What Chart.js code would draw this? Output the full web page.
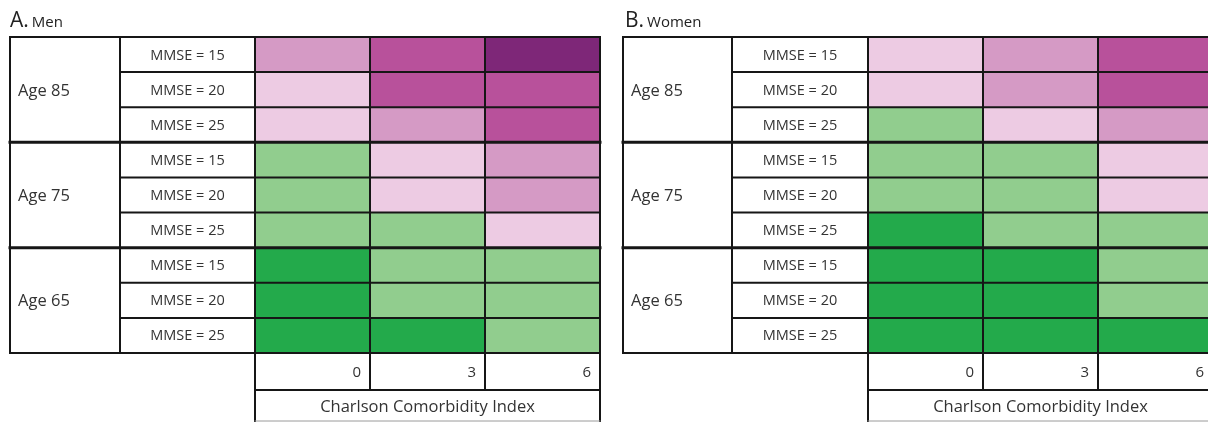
<!DOCTYPE html>
<html>
<head>
<meta charset="utf-8">
<script src="https://cdn.jsdelivr.net/npm/chart.js@4"></script>
<style>
  html, body { margin: 0; padding: 0; background: #fff; overflow: hidden; width: 1208px; height: 423px; }
  #wrap { position: relative; width: 1208px; height: 423px; overflow: hidden; }
  canvas { position: absolute; top: 0; }
</style>
</head>
<body>
<div id="wrap">
  <canvas id="men" width="604" height="423" style="left:0px"></canvas>
  <canvas id="women" width="620" height="423" style="left:604px"></canvas>
</div>
<script>
// ---- Data ----
const ageGroups = ['Age 85', 'Age 75', 'Age 65'];
const mmseLabels = ['MMSE = 15', 'MMSE = 20', 'MMSE = 25'];
const rowLabels = ['85|15','85|20','85|25','75|15','75|20','75|25','65|15','65|20','65|25'];
const cciTicks = ['0', '3', '6'];
const axisTitle = 'Charlson Comorbidity Index';

// level codes: -2 dark green, -1 light green, 1 pale pink, 2 light purple, 3 purple, 4 dark purple
const menCCI0 = [2, 1, 1, -1, -1, -1, -2, -2, -2];
const menCCI3 = [3, 3, 2, 1, 1, -1, -1, -1, -2];
const menCCI6 = [4, 3, 3, 2, 2, 1, -1, -1, -1];

const womenCCI0 = [1, 1, -1, -1, -1, -2, -2, -2, -2];
const womenCCI3 = [2, 2, 1, -1, -1, -1, -2, -2, -2];
const womenCCI6 = [3, 3, 2, 1, 1, -1, -1, -1, -2];

const levelColors = {
  '-2': '#23aa4b',
  '-1': '#91cd8e',
  '1': '#edcbe3',
  '2': '#d59ac5',
  '3': '#b8519b',
  '4': '#7e2778'
};

const FONT = '"Open Sans", "Noto Sans", sans-serif';
const TEXT = '#333333';
const LINE = '#161616';

function tablePlugin(letter, name, titleX, tableLeft, ageRight) {
  return {
    id: 'tablePlugin',
    afterDatasetsDraw(chart) {
      const ctx = chart.ctx;
      const ca = chart.chartArea;
      const x = chart.scales.x;
      const y = chart.scales.y;
      const n = rowLabels.length;
      const rowH = (ca.bottom - ca.top) / n;
      const rowTop = i => y.getPixelForValue(i) - rowH / 2;
      const top = rowTop(0);
      const bottom = rowTop(n - 1) + rowH;
      const colX = j => x.getPixelForValue(j);
      const tickBottom = bottom + 37;
      const titleBottom = tickBottom + 31;

      ctx.save();
      // Title
      ctx.fillStyle = '#222';
      ctx.textBaseline = 'alphabetic';
      ctx.textAlign = 'left';
      ctx.font = '21px ' + FONT;
      ctx.fillText(letter, titleX, 27);
      const w = ctx.measureText(letter).width;
      ctx.font = '15px ' + FONT;
      ctx.fillText(name, titleX + w + 3, 27);

      // Row labels
      ctx.fillStyle = TEXT;
      ctx.font = '14.5px ' + FONT;
      ctx.textAlign = 'center';
      for (let i = 0; i < n; i++) {
        const cy = y.getPixelForValue(i);
        ctx.fillText(mmseLabels[i % 3], (ageRight + ca.left) / 2, cy + 5);
      }
      ctx.font = '16.5px ' + FONT;
      ctx.textAlign = 'left';
      for (let g = 0; g < ageGroups.length; g++) {
        const cy = (rowTop(g * 3) + rowTop(g * 3 + 2) + rowH) / 2;
        ctx.fillText(ageGroups[g], tableLeft + 8, cy + 6);
      }

      // Tick labels, right aligned in cells
      ctx.font = '15px ' + FONT;
      ctx.textAlign = 'right';
      for (let j = 0; j < cciTicks.length; j++) {
        ctx.fillText(cciTicks[j], colX(j + 1) - 9, (bottom + tickBottom) / 2 + 5);
      }
      ctx.font = '16.5px ' + FONT;
      ctx.textAlign = 'center';
      ctx.fillText(axisTitle, (ca.left + ca.right) / 2, tickBottom + 22);

      // Lines
      ctx.strokeStyle = LINE;
      ctx.lineCap = 'square';
      const line = (x1, y1, x2, y2, lw) => {
        ctx.lineWidth = lw;
        ctx.beginPath();
        ctx.moveTo(x1, y1);
        ctx.lineTo(x2, y2);
        ctx.stroke();
      };
      // horizontal row lines
      for (let i = 1; i < n; i++) {
        const yy = rowTop(i);
        if (i % 3 === 0) line(tableLeft, yy, ca.right, yy, 3);
        else line(ageRight, yy, ca.right, yy, 2);
      }
      // outer box
      line(tableLeft, top, ca.right, top, 2);
      line(tableLeft, bottom, ca.right, bottom, 2);
      line(tableLeft, top, tableLeft, bottom, 2);
      line(ageRight, top, ageRight, bottom, 2);
      // column lines through grid + tick row
      for (let j = 0; j <= cciTicks.length; j++) {
        const xx = colX(j);
        line(xx, top, xx, tickBottom, 2);
      }
      line(ca.left, tickBottom, ca.right, tickBottom, 2);
      // title box
      line(ca.left, tickBottom, ca.left, titleBottom, 2);
      line(ca.right, tickBottom, ca.right, titleBottom, 2);
      ctx.strokeStyle = '#9a9a9a';
      line(ca.left, titleBottom, ca.right, titleBottom, 1);
      ctx.restore();
    }
  };
}

function buildChart(id, cols, pad, letter, name, titleX, tableLeft, ageRight) {
  const datasets = cols.map((levels, j) => ({
    label: 'CCI ' + cciTicks[j],
    data: levels.map(() => [j, j + 1]),
    backgroundColor: levels.map(v => levelColors[String(v)]),
    borderWidth: 0,
    barPercentage: 1,
    categoryPercentage: 1,
    grouped: false
  }));
  return new Chart(document.getElementById(id), {
    type: 'bar',
    data: { labels: rowLabels, datasets },
    options: {
      responsive: false,
      animation: false,
      indexAxis: 'y',
      layout: { padding: pad },
      plugins: { legend: { display: false }, tooltip: { enabled: false }, title: { display: false } },
      scales: {
        x: { type: 'linear', min: 0, max: 3, display: false },
        y: { type: 'category', display: false, offset: true }
      }
    },
    plugins: [tablePlugin(letter, name, titleX, tableLeft, ageRight)]
  });
}

buildChart('men', [menCCI0, menCCI3, menCCI6],
  { left: 255, right: 4, top: 37, bottom: 70 }, 'A.', 'Men', 10, 10, 120);
buildChart('women', [womenCCI0, womenCCI3, womenCCI6],
  { left: 264, right: 11, top: 37, bottom: 70 }, 'B.', 'Women', 21, 19, 128);
</script>
</body>
</html>
